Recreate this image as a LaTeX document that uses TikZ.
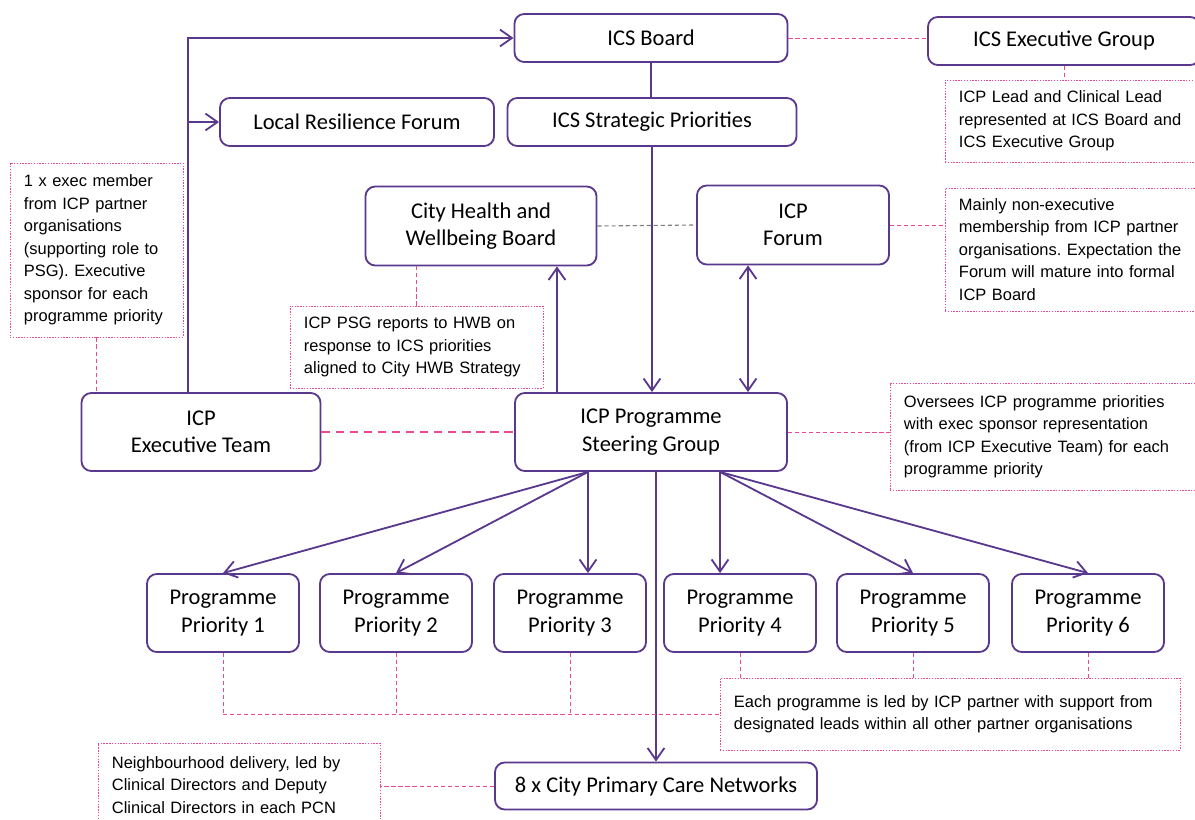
\documentclass[tikz,border=0pt]{standalone}
\usepackage{fontspec}
\setmainfont{Carlito}
\newfontfamily\notefont{Liberation Sans}
\usetikzlibrary{arrows.meta}
\definecolor{boxpurple}{RGB}{90,56,142}
\definecolor{notepink}{RGB}{236,72,150}
\frenchspacing

\begin{document}
\begin{tikzpicture}[x=0.025cm,y=-0.025cm,
  box/.style={draw=boxpurple, line width=1.3pt, rounded corners=7pt, fill=white,
    align=center, inner sep=0pt, font=\fontsize{16}{19.5}\selectfont},
  note/.style={draw=notepink, line width=0.6pt, dash pattern=on 1pt off 1pt, fill=white,
    align=left, inner xsep=0.35cm, inner ysep=0pt, font=\notefont\fontsize{11.7}{16}\selectfont},
  arr/.style={draw=boxpurple, line width=1.3pt, -{Straight Barb[length=3mm,width=4.2mm]}},
  arrs/.style={arr, {Straight Barb[length=3mm,width=4.2mm]}-{Straight Barb[length=3mm,width=4.2mm]}},
  link/.style={draw=notepink, line width=0.7pt, dash pattern=on 3pt off 2pt},
  biglink/.style={draw=notepink, line width=1.6pt, dash pattern=on 6pt off 4pt},
  greylink/.style={draw=gray, line width=0.8pt, dash pattern=on 3pt off 2pt}]
\useasboundingbox (0,0) rectangle (1195,820);
\clip (0,0) rectangle (1195,820);

\node[box, minimum width=6.825cm, minimum height=1.2cm] (icsb) at (651,38) {ICS Board};
\node[box, minimum width=6.8cm, minimum height=1.2cm] (icseg) at (1064,41) {ICS Executive Group};
\node[box, minimum width=6.85cm, minimum height=1.2cm] (lrf) at (357,122) {Local Resilience Forum};
\node[box, minimum width=7.225cm, minimum height=1.2cm] (icssp) at (652,122) {ICS Strategic Priorities\vphantom{L}};
\node[box, minimum width=5.775cm, minimum height=1.975cm] (hwb) at (481,226) {City Health and\\Wellbeing Board};
\node[box, minimum width=4.8cm, minimum height=1.975cm] (forum) at (793,225) {ICP\\Forum};
\node[box, minimum width=5.975cm, minimum height=1.95cm] (exec) at (201,432) {ICP\\Executive Team};
\node[box, minimum width=6.8cm, minimum height=1.95cm] (psg) at (651,432) {ICP Programme\\Steering Group};
\foreach \x [count=\i] in {223,396,570,740,913,1088}
  \node[box, minimum width=3.8cm, minimum height=1.95cm] (p\i) at (\x,613) {Programme\\Priority \i};
\node[box, minimum width=8.05cm, minimum height=1.175cm] (pcn) at (656,786) {8 x City Primary Care Networks};

\node[note, text width=3.625cm, minimum height=4.35cm] (n0) at (96.5,250)
  {1 x exec member\\from ICP partner\\organisations\\(supporting role to\\PSG). Executive\\sponsor for each\\programme priority};
\node[note, text width=6.05cm, minimum height=2.05cm] (n1) at (1080,121)
  {ICP Lead and Clinical Lead\\represented at ICS Board and\\ICS Executive Group};
\node[note, text width=6.05cm, minimum height=3.075cm] (n2) at (1080,249.5)
  {Mainly non-executive\\membership from ICP partner\\organisations. Expectation the\\Forum will mature into formal\\ICP Board};
\node[note, text width=5.625cm, minimum height=2.05cm] (n3) at (416.5,347)
  {ICP PSG reports to HWB on\\response to ICS priorities\\aligned to City HWB Strategy};
\node[note, text width=7.05cm, minimum height=2.675cm] (n4) at (1045,436.5)
  {Oversees ICP programme priorities\\with exec sponsor representation\\(from ICP Executive Team) for each\\programme priority};
\node[note, text width=10.8cm, minimum height=1.8cm] (n5) at (950,714)
  {Each programme is led by ICP partner with support from\\designated leads within all other partner organisations};
\node[note, text width=6.35cm, minimum height=2.1cm] (n6) at (239,785)
  {Neighbourhood delivery, led by\\Clinical Directors and Deputy\\Clinical Directors in each PCN};

\coordinate (up) at ([xshift=-0.325cm]exec.north);
\draw[arr] (up) |- (icsb.west);
\draw[arr] (up |- lrf.west) -- (lrf.west);
\draw[draw=boxpurple, line width=1.3pt] (icsb.south) -- (icsb.south |- icssp.north);
\draw[arr] (icssp.south) -- (icssp.south |- psg.north);
\coordinate (h1) at ([xshift=-2.35cm]psg.north);
\draw[arr] (h1) -- (h1 |- hwb.south);
\coordinate (f1) at ([xshift=2.425cm]psg.north);
\draw[arrs] (f1) -- (f1 |- forum.south);
\coordinate (o1) at ([xshift=-1.575cm]psg.south);
\coordinate (o2) at ([xshift=1.725cm]psg.south);
\draw[arr] (o1) -- (p1.north);
\draw[arr] (o1) -- (p2.north);
\draw[arr] (o1) -- (o1 |- p3.north);
\draw[arr] (o2) -- (o2 |- p4.north);
\draw[arr] (o2) -- (p5.north);
\draw[arr] (o2) -- (p6.north);
\draw[arr] (psg.south -| pcn.north) -- (pcn.north);

\draw[link] (icsb.east) -- (icsb.east -| icseg.west);
\draw[link] (icseg.south) -- (icseg.south |- n1.north);
\draw[link] (forum.east) -- (forum.east -| n2.west);
\draw[link] (n3.north) -- (n3.north |- hwb.south);
\draw[link] (n0.south) -- (n0.south |- exec.north);
\draw[link] (psg.east) -- (psg.east -| n4.west);
\draw[link] (pcn.west) -- (pcn.west -| n6.east);
\draw[greylink] (hwb.east) -- (forum.west);
\draw[biglink] (exec.east) -- (psg.west);
\foreach \i in {1,2,3}
  \draw[link] (p\i.south) -- (p\i.south |- n5.west);
\draw[link] (p1.south |- n5.west) -- (n5.west);
\foreach \i in {4,5,6}
  \draw[link] (p\i.south) -- (p\i.south |- n5.north);
\end{tikzpicture}
\end{document}
